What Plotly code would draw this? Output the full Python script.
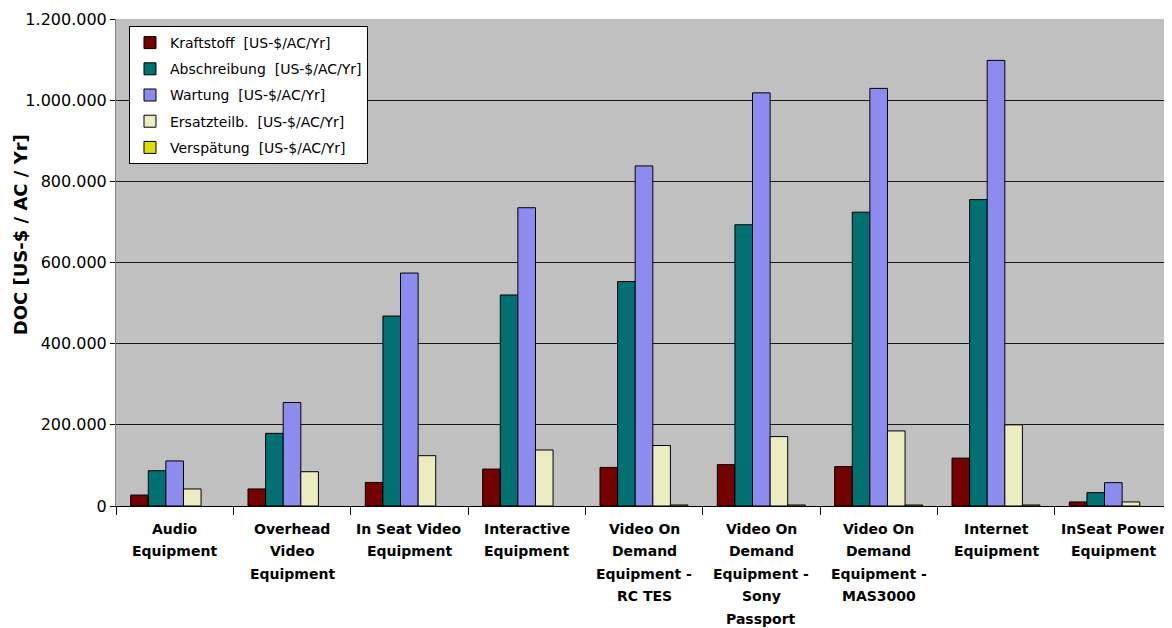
import plotly.graph_objects as go

categories = [
    "Audio<br>Equipment",
    "Overhead<br>Video<br>Equipment",
    "In Seat Video<br>Equipment",
    "Interactive<br>Equipment",
    "Video On<br>Demand<br>Equipment -<br>RC TES",
    "Video On<br>Demand<br>Equipment -<br>Sony<br>Passport",
    "Video On<br>Demand<br>Equipment -<br>MAS3000",
    "Internet<br>Equipment",
    "InSeat Power<br>Equipment",
]

kraftstoff = [27000, 42000, 58000, 91000, 95000, 102000, 97000, 118000, 10000]
abschreibung = [87000, 179000, 468000, 520000, 553000, 693000, 724000, 755000, 33000]
wartung = [111000, 255000, 574000, 735000, 838000, 1018000, 1029000, 1098000, 57500]
ersatzteile = [42000, 84500, 124000, 138000, 149000, 171000, 185000, 200000, 10000]
verspaetung = [None, None, None, None, 2500, 2500, 2500, 2500, None]

series_names = [
    "Kraftstoff  [US-$/AC/Yr]",
    "Abschreibung  [US-$/AC/Yr]",
    "Wartung  [US-$/AC/Yr]",
    "Ersatzteilb.  [US-$/AC/Yr]",
    "Verspätung  [US-$/AC/Yr]",
]
series_values = [kraftstoff, abschreibung, wartung, ersatzteile, verspaetung]
series_colors = ["#740000", "#007070", "#8c8cee", "#ececc0", "#dede00"]
y_title = "DOC [US-$ / AC / Yr]"

fig = go.Figure()
for i, (name, vals, col) in enumerate(zip(series_names, series_values, series_colors)):
    fig.add_trace(go.Bar(
        x=categories, y=vals, name=name,
        marker=dict(color=col, line=dict(color="#000000", width=1)),
        legendgroup=f"g{i}",
    ))

FONT = "DejaVu Sans"

annotations = []
for cat in categories:
    for j, line in enumerate(cat.split("<br>")):
        annotations.append(dict(
            x=cat, xref="x", y=0, yref="paper",
            text=f"<b>{line}</b>", showarrow=False,
            yanchor="top", xanchor="center",
            yshift=-13 - 22.4 * j,
            font=dict(family=FONT, size=14, color="#000000"),
        ))

annotations.append(dict(
    x=0, xref="paper", y=0.556, yref="paper",
    text=f"<b>{y_title}</b>", showarrow=False, textangle=-90,
    xanchor="center", yanchor="middle", xshift=-96,
    font=dict(family=FONT, size=18, color="#000000"),
))

# page body has an 8px margin, so the figure is shifted by 8px
fig.update_layout(
    width=1164, height=620,
    margin=dict(l=108, r=0, t=11, b=122),
    paper_bgcolor="#ffffff",
    plot_bgcolor="#c0c0c0",
    barmode="group",
    bargap=0.25,
    bargroupgap=0,
    separators=",.",
    showlegend=True,
    legend=dict(
        x=0.0123, y=0.9856, xanchor="left", yanchor="top",
        bgcolor="#ffffff", bordercolor="#000000", borderwidth=1,
        font=dict(family=FONT, size=14, color="#000000"),
        traceorder="grouped", tracegroupgap=5,
        itemwidth=30,
    ),
    annotations=annotations,
    xaxis=dict(
        showticklabels=False,
        ticks="outside", tickson="boundaries", ticklen=8,
        tickcolor="#000000", showline=True, linecolor="#000000",
        linewidth=1, showgrid=False,
    ),
    yaxis=dict(
        range=[0, 1200000], dtick=200000, tickformat=",d",
        ticks="outside", ticklen=5, tickcolor="#000000",
        showline=True, linecolor="#808080", linewidth=1,
        showgrid=True, gridcolor="#1a1a1a", gridwidth=1,
        zeroline=False,
        tickfont=dict(family=FONT, size=16, color="#000000"),
    ),
)

fig.write_html("out.html")
